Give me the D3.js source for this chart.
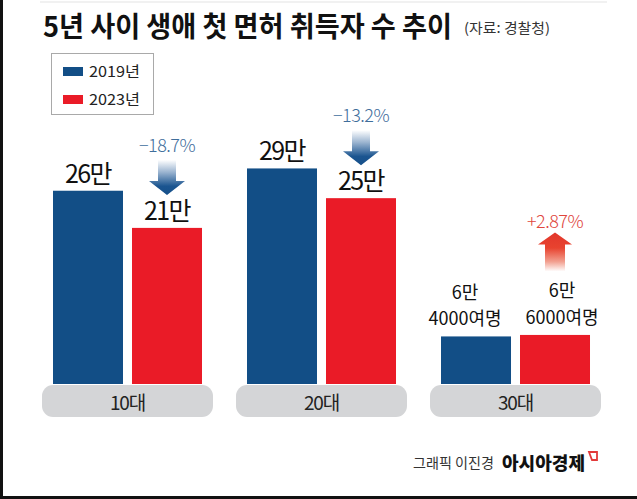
<!DOCTYPE html>
<html><head><meta charset="utf-8">
<script src="https://cdn.jsdelivr.net/npm/d3@7/dist/d3.min.js"></script>
<style>
html,body{margin:0;padding:0;background:#fff;}
svg{display:block;font-family:"Noto Sans CJK KR","Noto Sans",sans-serif;}
</style></head>
<body>
<svg id="chart" width="637" height="499"></svg>
<script>
const categories = ["10대", "20대", "30대"];
const years = ["2019년", "2023년"];
const values2019 = [26, 29, 6.4];
const values2023 = [21, 25, 6.6];
const labels2019 = [["26만"], ["29만"], ["6만", "4000여명"]];
const labels2023 = [["21만"], ["25만"], ["6만", "6000여명"]];
const changes = ["−18.7%", "−13.2%", "+2.87%"];
const titleText = "5년 사이 생애 첫 면허 취득자 수 추이";
const sourceText = "(자료: 경찰청)";
const creditText = "그래픽 이진경";
const brandText = "아시아경제";

const colors = {"2019년": "#124e86", "2023년": "#ea1b27"};
const svg = d3.select("#chart");
const W = 637, H = 499;

// frame
svg.append("rect").attr("x",0).attr("y",0).attr("width",W).attr("height",H).attr("fill","#fff");
svg.append("line").attr("x1",40).attr("x2",607).attr("y1",2).attr("y2",2).attr("stroke","#ececec").attr("stroke-width",1.5);
svg.append("rect").attr("x",0).attr("y",0).attr("width",3).attr("height",H).attr("fill","#111");
svg.append("rect").attr("x",0).attr("y",496).attr("width",W).attr("height",3).attr("fill","#111");

// title
svg.append("text").attr("x",43).attr("y",37).attr("font-size",28).attr("font-weight",700)
  .attr("fill","#111").attr("textLength",409).attr("lengthAdjust","spacingAndGlyphs").text(titleText);
svg.append("text").attr("x",464).attr("y",33).attr("font-size",14).attr("fill","#333")
  .attr("textLength",86).attr("lengthAdjust","spacingAndGlyphs").text(sourceText);

// legend
const lg = svg.append("g");
lg.append("rect").attr("x",51.5).attr("y",53.5).attr("width",102).attr("height",61)
  .attr("fill","#fff").attr("stroke","#a9a9a9").attr("stroke-width",1);
years.forEach((yr,i)=>{
  const yy = 67 + i*28;
  lg.append("rect").attr("x",63).attr("y",yy).attr("width",20).attr("height",9).attr("fill",colors[yr]);
  lg.append("text").attr("x",89).attr("y",yy+10).attr("font-size",15).attr("fill","#222")
    .attr("textLength",51).attr("lengthAdjust","spacingAndGlyphs").text(yr);
});

// scales
const x0 = d3.scaleBand().domain(categories).range([42, 601]).paddingInner(0.1186).paddingOuter(0);
const x1 = d3.scaleBand().domain(years).range([11, 160]).paddingInner(0.114).paddingOuter(0);
const y = d3.scaleLinear().domain([0, 30]).range([384, 161]);

// gradients
const defs = svg.append("defs");
const gB = defs.append("linearGradient").attr("id","gBlue").attr("x1",0).attr("x2",0).attr("y1",0).attr("y2",1);
gB.append("stop").attr("offset","0%").attr("stop-color","#ffffff");
gB.append("stop").attr("offset","35%").attr("stop-color","#9bb4d0");
gB.append("stop").attr("offset","75%").attr("stop-color","#1b5590");
gB.append("stop").attr("offset","100%").attr("stop-color","#16508a");
const gR = defs.append("linearGradient").attr("id","gRed").attr("x1",0).attr("x2",0).attr("y1",0).attr("y2",1);
gR.append("stop").attr("offset","0%").attr("stop-color","#e2362b");
gR.append("stop").attr("offset","40%").attr("stop-color","#e8432f");
gR.append("stop").attr("offset","75%").attr("stop-color","#f2a090");
gR.append("stop").attr("offset","100%").attr("stop-color","#ffffff");

const data = categories.map((c,i)=>({
  cat: c,
  series: [
    {year: years[0], value: values2019[i], label: labels2019[i]},
    {year: years[1], value: values2023[i], label: labels2023[i]}
  ],
  change: changes[i]
}));

const groups = svg.selectAll("g.grp").data(data).join("g").attr("class","grp")
  .attr("transform", d => `translate(${x0(d.cat)},0)`);

// category band
groups.append("rect").attr("x",0).attr("y",385).attr("width",x0.bandwidth()).attr("height",32)
  .attr("rx",11).attr("fill","#d4d5d7");
groups.append("text").attr("x",x0.bandwidth()/2).attr("y",410).attr("text-anchor","middle")
  .attr("font-size",19).attr("fill","#222").attr("letter-spacing",-1.2).text(d=>d.cat);

// bars
groups.selectAll("rect.bar").data(d=>d.series).join("rect").attr("class","bar")
  .attr("x", s=>x1(s.year)).attr("width", x1.bandwidth())
  .attr("y", s=>y(s.value)).attr("height", s=>y(0)-y(s.value))
  .attr("fill", s=>colors[s.year]);

// value labels
const lineH = 26.5;
groups.each(function(d){
  const g = d3.select(this);
  d.series.forEach((s,si)=>{
    const n = s.label.length;
    const lastBase = y(s.value) - (n>1 ? 11 : 8);
    const dx = n>1 ? (si===0 ? -11 : 7) : 0;
    const cxl = x1(s.year)+x1.bandwidth()/2 + dx;
    s.label.forEach((t,k)=>{
      g.append("text").attr("text-anchor","middle").attr("font-size", n>1 ? 18 : 25)
        .attr("letter-spacing", n>1 ? 0 : -1.6).attr("fill","#111")
        .attr("x", cxl).attr("y", lastBase - (n-1-k)*lineH).text(t);
    });
    s.labelTop = lastBase - (n-1)*lineH - 18;
  });
  // change arrow
  const s2 = d.series[1];
  const cx = x1(s2.year)+x1.bandwidth()/2;
  const up = d.change.trim().startsWith("+");
  let pctBase, path;
  if (!up) {
    const tip = s2.labelTop - 7, top = tip - 35, hh = 14;
    path = `M${cx-9},${top} L${cx+9},${top} L${cx+9},${tip-hh} L${cx+18},${tip-hh} L${cx},${tip} L${cx-18},${tip-hh} L${cx-9},${tip-hh} Z`;
    pctBase = top - 8;
    g.append("path").attr("d",path).attr("fill","url(#gBlue)");
  } else {
    const bottom = s2.labelTop - 8, tip = bottom - 39, hh = 12;
    path = `M${cx-10},${bottom} L${cx+10},${bottom} L${cx+10},${tip+hh} L${cx+17},${tip+hh} L${cx},${tip} L${cx-17},${tip+hh} L${cx-10},${tip+hh} Z`;
    pctBase = tip - 4;
    g.append("path").attr("d",path).attr("fill","url(#gRed)");
  }
  g.append("text").attr("x",cx).attr("y",pctBase).attr("text-anchor","middle")
    .attr("font-size",18).attr("letter-spacing",-0.5).attr("font-weight",300)
    .attr("fill", up ? "#e0463c" : "#3f6e9c").text(d.change);
});

// footer
svg.append("text").attr("x",413).attr("y",468).attr("font-size",14).attr("fill","#333")
  .attr("textLength",81).attr("lengthAdjust","spacingAndGlyphs").text(creditText);
svg.append("text").attr("x",502).attr("y",470).attr("font-size",18).attr("font-weight",900).attr("fill","#111")
  .attr("textLength",83).attr("lengthAdjust","spacingAndGlyphs").text(brandText);
svg.append("path").attr("d","M589,452 L597,452 L597,460 L592,460 Z").attr("fill","none")
  .attr("stroke","#e23a3a").attr("stroke-width",1.8);
</script>
</body></html>
